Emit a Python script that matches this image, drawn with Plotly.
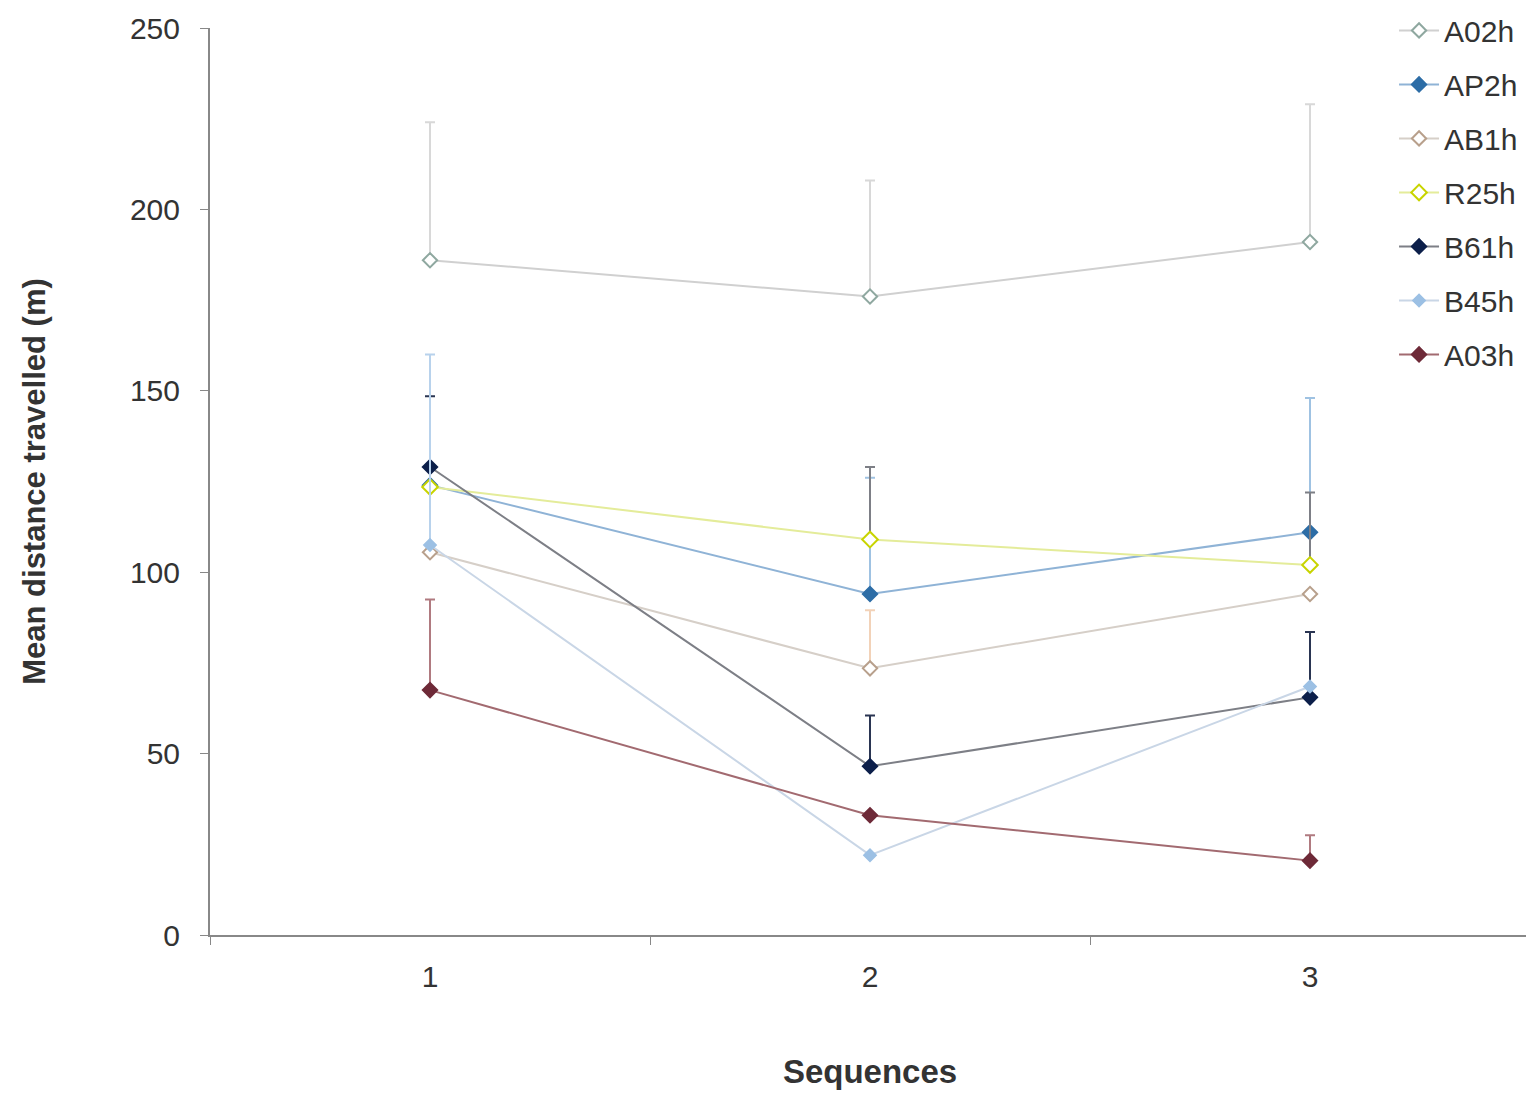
import plotly.graph_objects as go

sequences = ["1", "2", "3"]
series_names = ["A02h", "AP2h", "AB1h", "R25h", "B61h", "B45h", "A03h"]
A02h = [186, 176, 191]
AP2h = [124, 94, 111]
AB1h = [105.5, 73.5, 94]
R25h = [123.5, 109, 102]
B61h = [129, 46.5, 65.5]
B45h = [107.5, 22, 68.5]
A03h = [67.5, 33, 20.5]
values = [A02h, AP2h, AB1h, R25h, B61h, B45h, A03h]

err_A02h = [38, 32, 38]
err_AP2h = [0, 32, 37]
err_AB1h = [0, 16, 0]
err_R25h = [0, 20, 20]
err_B61h = [19.5, 14, 18]
err_B45h = [52.5, 0, 0]
err_A03h = [25, 0, 7]
errors = [err_A02h, err_AP2h, err_AB1h, err_R25h, err_B61h, err_B45h, err_A03h]

line_colors = ["#d0d0d0", "#8fb3d6", "#d6cfc8", "#e4ec9a", "#7d7f86", "#c9d6e6", "#a26a70"]
marker_colors = ["#8fa8a0", "#2d6da6", "#b8a08c", "#c8d400", "#0c1f4a", "#9cc0e4", "#6e2a38"]
marker_fill = ["#ffffff", "#2d6da6", "#ffffff", "#ffffff", "#0c1f4a", "#9cc0e4", "#6e2a38"]
err_colors = ["#d8d8d8", "#9fc2e2", "#f2d2b8", "#7d7f86", "#2a3552", "#b8d2ec", "#b07a80"]
marker_sizes = [11, 11, 11, 12, 11, 9, 11]

fig = go.Figure()
for name, vals, errs, lc, mc, mf, ec, ms in zip(series_names, values, errors, line_colors,
                                                 marker_colors, marker_fill, err_colors, marker_sizes):
    fig.add_trace(go.Scatter(
        x=sequences, y=vals, name=name, legendgroup=name, mode="lines+markers",
        line=dict(color=lc, width=2),
        marker=dict(symbol="diamond", size=ms, color=mf, line=dict(color=mc, width=2)),
        error_y=dict(type="data", array=errs, arrayminus=[0, 0, 0], symmetric=False,
                     color=ec, thickness=2, width=5),
    ))

fig.update_layout(
    width=1534, height=1096,
    paper_bgcolor="white", plot_bgcolor="white",
    margin=dict(l=202, r=12, t=20, b=169, autoexpand=False),
    font=dict(family="Liberation Sans, Arial, sans-serif", size=30, color="#333333"),
    legend=dict(x=0.897, y=1.026, xanchor="left", yanchor="top", bgcolor="rgba(0,0,0,0)",
                font=dict(size=30, color="#333333"), tracegroupgap=12, itemwidth=40),
    showlegend=True,
)
fig.update_xaxes(
    type="category", range=[-0.5, 2.5], showgrid=False, zeroline=False,
    showline=True, linecolor="#888888", linewidth=2,
    ticks="outside", tickson="boundaries", ticklen=8, tickcolor="#888888",
    ticklabelstandoff=14,
    tickfont=dict(size=30, color="#333333"),
    title=dict(text="<b>Sequences</b>", font=dict(size=33, color="#333333"), standoff=68),
)
fig.update_yaxes(
    range=[0, 250], tickvals=[0, 50, 100, 150, 200, 250], showgrid=False, zeroline=False,
    showline=True, linecolor="#888888", linewidth=2,
    ticks="outside", ticklen=8, tickcolor="#888888",
    ticklabelstandoff=14,
    tickfont=dict(size=30, color="#333333"),
    title=dict(text="<b>Mean distance travelled (m)</b>", font=dict(size=31, color="#333333"), standoff=75),
)
fig.write_html("out.html")
